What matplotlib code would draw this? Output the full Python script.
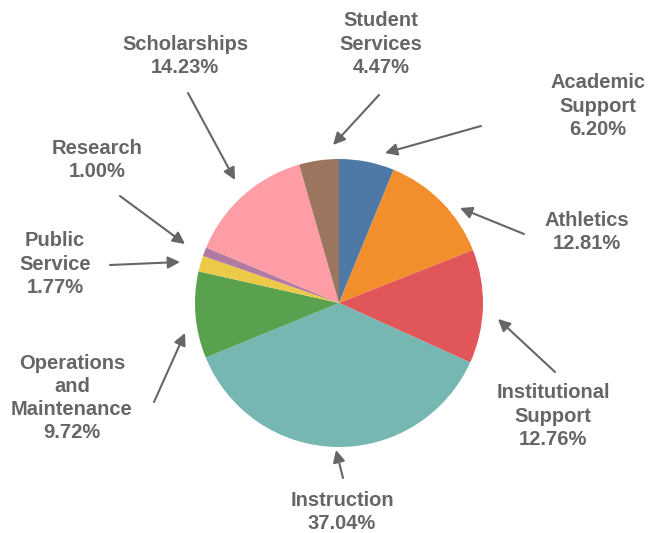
import matplotlib.pyplot as plt

categories = ['Academic\nSupport', 'Athletics', 'Institutional\nSupport', 'Instruction',
              'Operations\nand\nMaintenance', 'Public\nService', 'Research',
              'Scholarships', 'Student\nServices']
shares = [6.20, 12.81, 12.76, 37.04, 9.72, 1.77, 1.00, 14.23, 4.47]
colors = ['#4e79a7', '#f28e2b', '#e15759', '#76b7b2', '#59a14f',
          '#edc948', '#b07aa1', '#ff9da7', '#9c755f']

# label placement in pixel coords (x, y from top): text center, arrow tail, arrow head
text_pos = [(598, 106), (587, 232), (553, 416), (342, 512), (72, 398),
            (55, 264), (97, 160), (185, 56), (381, 44)]
arrow_tail = [(481, 126), (524, 234), (555, 372), (343, 478), (154, 402),
              (110, 265), (120, 196), (188, 93), (379, 95)]
arrow_head = [(385, 153), (460, 208), (498, 319), (336, 450), (185, 333),
              (180, 262), (185, 244), (235, 180), (333, 145)]

H = 533
fig = plt.figure(figsize=(6.56, 5.33), dpi=100)
ax = fig.add_axes([0, 0, 1, 1])

ax.pie(shares, colors=colors, startangle=90, counterclock=False,
       center=(339, H - 303), radius=144, frame=True,
       wedgeprops=dict(linewidth=0))
ax.set_xlim(0, 656)
ax.set_ylim(0, H)
ax.axis('off')

for name, val, tp, t0, t1 in zip(categories, shares, text_pos, arrow_tail, arrow_head):
    ax.text(tp[0], H - tp[1], '%s\n%.2f%%' % (name, val), ha='center', va='center',
            fontsize=14.5, fontweight='bold', color='#666666', family='Liberation Sans',
            linespacing=1.27)
    ax.annotate('', xy=(t1[0], H - t1[1]), xytext=(t0[0], H - t0[1]),
                arrowprops=dict(arrowstyle='-|>', color='#666666', lw=1.5,
                                mutation_scale=18, shrinkA=0, shrinkB=0))

fig.savefig('out.png', dpi=100)
